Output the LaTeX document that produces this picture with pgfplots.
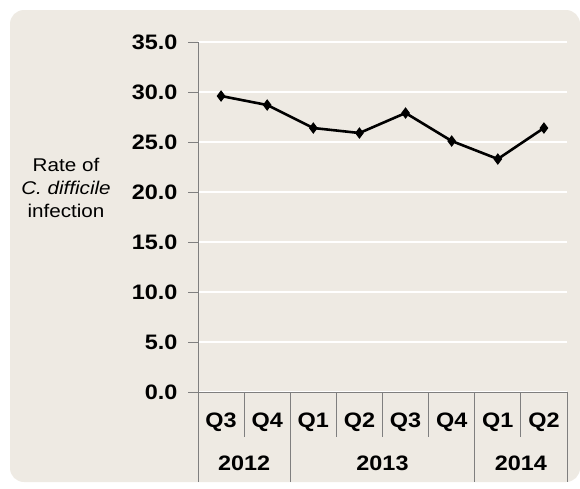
\documentclass[border=0pt]{standalone}
\usepackage{fontspec}
\setmainfont[FakeStretch=1.12]{Liberation Sans}
\usepackage{pgfplots}
\pgfplotsset{compat=1.18}
\definecolor{bg}{HTML}{EEEAE3}
\definecolor{axgray}{HTML}{7F7F7F}
\begin{document}
\begin{tikzpicture}
\path[use as bounding box] (0bp,0bp) rectangle (580bp,-489bp);
\fill[bg, rounded corners=14bp] (10bp,-10bp) rectangle (580bp,-482bp);
\node[align=center, font=\fontsize{18.5}{23}\selectfont] at (66bp,-188bp)
  {Rate of\\\textit{C. difficile}\\infection};
\begin{axis}[
  at={(198bp,-392bp)}, anchor=south west,
  scale only axis, width=369bp, height=350bp,
  xmin=-0.5, xmax=7.5, ymin=0, ymax=35,
  axis lines*=left,
  axis line style={axgray, line width=0.8bp},
  ytick={0,5,...,35},
  tick align=outside,
  major tick length=10bp,
  ytick style={axgray, line width=0.8bp},
  ymajorgrids,
  grid style={white, line width=1.3bp},
  /pgf/number format/.cd, fixed, fixed zerofill, precision=1, assume math mode=true,
  /pgfplots/.cd,
  yticklabel style={font=\bfseries\fontsize{21}{21}\selectfont, xshift=-7bp},
  xtick={0,...,7},
  xticklabels={Q3,Q4,Q1,Q2,Q3,Q4,Q1,Q2},
  xtick style={draw=none},
  xticklabel style={font=\bfseries\fontsize{21}{21}\selectfont, anchor=base, yshift=-25bp},
  clip=false,
]
\addplot[black, line width=2.6bp, mark=diamond*, mark size=5bp,
  mark options={fill=black, line width=1bp}]
  coordinates {(0,29.6)(1,28.7)(2,26.4)(3,25.9)(4,27.9)(5,25.1)(6,23.3)(7,26.4)};
\pgfplotsinvokeforeach{0.5,2.5,3.5,4.5,6.5}{
  \draw[axgray, line width=0.8bp] (axis cs:#1,0) -- ([yshift=-45bp]axis cs:#1,0);
}
\pgfplotsinvokeforeach{-0.5,1.5,5.5,7.5}{
  \draw[axgray, line width=0.8bp] (axis cs:#1,0) -- ([yshift=-90bp]axis cs:#1,0);
}
\node[anchor=base, font=\bfseries\fontsize{21}{21}\selectfont] at ([yshift=-78bp]axis cs:0.5,0) {2012};
\node[anchor=base, font=\bfseries\fontsize{21}{21}\selectfont] at ([yshift=-78bp]axis cs:3.5,0) {2013};
\node[anchor=base, font=\bfseries\fontsize{21}{21}\selectfont] at ([yshift=-78bp]axis cs:6.5,0) {2014};
\end{axis}
\end{tikzpicture}
\end{document}
